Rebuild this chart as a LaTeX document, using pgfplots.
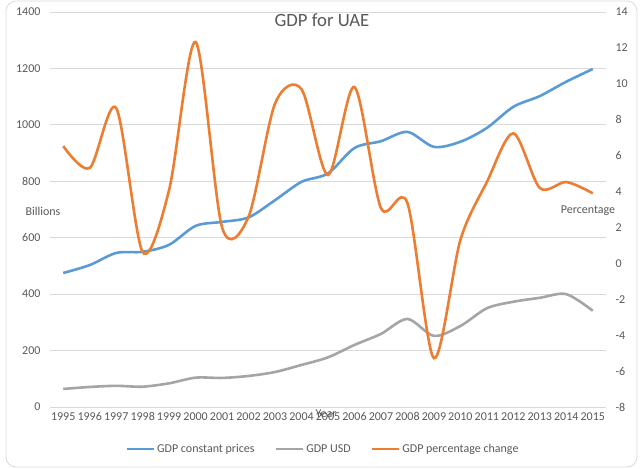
\documentclass[border=0pt]{standalone}
\usepackage{fontspec}
\setmainfont{Carlito}
\usepackage{pgfplots}
\pgfplotsset{compat=1.18}
\definecolor{cblue}{HTML}{5B9BD5}
\definecolor{cgray}{HTML}{A5A5A5}
\definecolor{corange}{HTML}{ED7D31}
\definecolor{ctext}{HTML}{595959}
\definecolor{cgrid}{HTML}{D9D9D9}
\begin{document}
\begin{tikzpicture}[x=1bp,y=1bp]
\useasboundingbox (0,0) rectangle (643,469);
\draw[cgrid, line width=0.8bp, rounded corners=10bp] (6,2) rectangle (637,468);
\pgfplotsset{
  common/.style={
    at={(50bp,62bp)}, anchor=south west,
    scale only axis, width=556bp, height=395bp,
    xmin=-0.5, xmax=20.5,
    xtick={0,...,20},
    xticklabels={1995,1996,1997,1998,1999,2000,2001,2002,2003,2004,2005,2006,2007,2008,2009,2010,2011,2012,2013,2014,2015},
    major tick length=0,
    axis line style={draw=none},
    tick label style={font=\fontsize{12bp}{14bp}\selectfont, text=ctext},
    /pgf/number format/assume math mode=true,
    /pgf/number format/1000 sep={},
  }
}
\begin{axis}[common,
  ymin=0, ymax=1400, ytick={0,200,...,1400},
  ymajorgrids, grid style={cgrid, line width=0.8bp},
  yticklabel style={xshift=-6bp},
  xticklabel style={yshift=-2bp},
]
\addplot[cgray, line width=2.6bp, smooth, tension=0.5] coordinates {
(0,64) (1,71) (2,75) (3,72) (4,84) (5,104) (6,103) (7,110) (8,124) (9,149) (10,176)
(11,220) (12,259) (13,312) (14,252) (15,287) (16,350) (17,373) (18,387) (19,400) (20,341)};
\addplot[cblue, line width=2.6bp, smooth, tension=0.5] coordinates {
(0,475) (1,503) (2,546) (3,550) (4,575) (5,642) (6,656) (7,672) (8,733) (9,798) (10,828)
(11,918) (12,942) (13,975) (14,922) (15,940) (16,989) (17,1064) (18,1102) (19,1153) (20,1198)};
\end{axis}
\begin{axis}[common,
  ymin=-8, ymax=14, ytick={-8,-6,...,14},
  axis y line*=right, axis x line=none,
  yticklabel style={anchor=west, xshift=6bp},
  legend style={at={(0.491,-0.106)}, anchor=center, draw=none, fill=none,
    font=\fontsize{12bp}{14bp}\selectfont, text=ctext,
    legend columns=3, /tikz/every even column/.append style={column sep=18bp}},
  legend image code/.code={\draw[#1, line width=2.6bp] (0bp,0bp) -- (27bp,0bp);},
]
\addlegendimage{cblue}
\addlegendentry{GDP constant prices}
\addlegendimage{cgray}
\addlegendentry{GDP USD}
\addplot[corange, line width=2.6bp, smooth, tension=0.5] coordinates {
(0,6.53) (1,5.31) (2,8.65) (3,0.63) (4,4.1) (5,12.33) (6,2.0) (7,2.6) (8,8.9) (9,9.7) (10,4.92)
(11,9.82) (12,3.08) (13,3.36) (14,-5.28) (15,1.3) (16,4.53) (17,7.24) (18,4.2) (19,4.53) (20,3.9)};
\addlegendentry{GDP percentage change}
\end{axis}
\node[text=ctext, font=\fontsize{18.7bp}{22bp}\selectfont] at (322,449) {GDP for UAE};
\node[text=ctext, font=\fontsize{12bp}{14bp}\selectfont] at (43,258) {Billions};
\node[text=ctext, font=\fontsize{12bp}{14bp}\selectfont] at (588,258) {Percentage};
\node[text=ctext, font=\fontsize{12bp}{14bp}\selectfont] at (326,55) {Year};
\end{tikzpicture}
\end{document}
